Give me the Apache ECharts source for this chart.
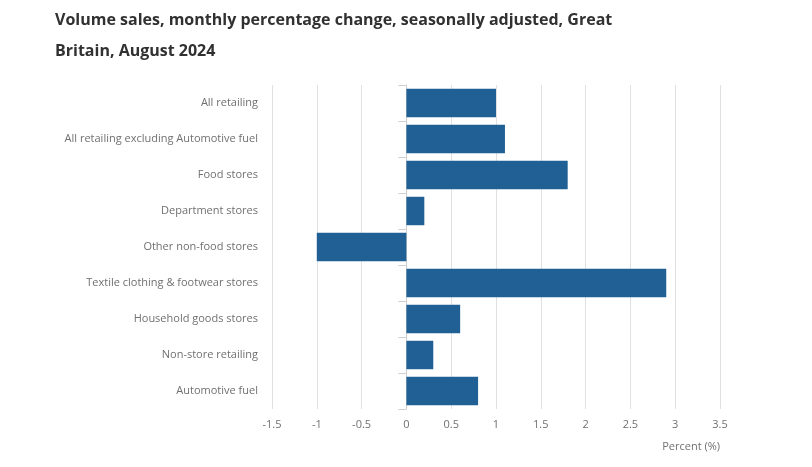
<!DOCTYPE html>
<html>
<head>
<meta charset="utf-8">
<script src="https://cdn.jsdelivr.net/npm/echarts@6/dist/echarts.min.js"></script>
<style>
html,body{margin:0;padding:0;background:#fff;}
#chart{width:812px;height:467px;}
</style>
</head>
<body>
<div id="chart"></div>
<script>
const categories = [
  "All retailing",
  "All retailing excluding Automotive fuel",
  "Food stores",
  "Department stores",
  "Other non-food stores",
  "Textile clothing & footwear stores",
  "Household goods stores",
  "Non-store retailing",
  "Automotive fuel"
];
const values = [1.0, 1.1, 1.8, 0.2, -1.0, 2.9, 0.6, 0.3, 0.8];
const titleLines = ["Volume sales, monthly percentage change, seasonally adjusted, Great", "Britain, August 2024"];
const axisName = "Percent (%)";

const chart = echarts.init(document.getElementById('chart'), null, {renderer: 'canvas'});
chart.setOption({
  animation: false,
  title: {
    text: titleLines.join('\n'),
    left: 50,
    top: 0,
    textStyle: {
      fontFamily: 'Open Sans',
      fontWeight: 'bold',
      fontSize: 16,
      color: '#323132',
      lineHeight: 31
    }
  },
  grid: {left: 272, right: 92, top: 85, bottom: 58, containLabel: false},
  xAxis: {
    type: 'value',
    min: -1.5,
    max: 3.5,
    interval: 0.5,
    name: axisName,
    nameLocation: 'end',
    nameGap: 0,
    nameTextStyle: {
      fontFamily: 'Open Sans', fontSize: 11, color: '#707070',
      align: 'right', verticalAlign: 'top', padding: [32, 0, 0, 0]
    },
    axisLine: {show: false},
    axisTick: {show: false},
    axisLabel: {
      fontFamily: 'Open Sans', fontSize: 11, color: '#707070', margin: 10,
      formatter: v => String(v)
    },
    splitLine: {show: true, lineStyle: {color: '#e0e0e0', width: 1}}
  },
  yAxis: {
    type: 'category',
    data: categories,
    inverse: true,
    axisLine: {show: true, lineStyle: {color: '#d0d0d0'}},
    axisTick: {show: true, length: 8, alignWithLabel: false, lineStyle: {color: '#d0d0d0'}},
    axisLabel: {fontFamily: 'Open Sans', fontSize: 11, color: '#707070', margin: 14}
  },
  series: [{
    type: 'bar',
    data: values,
    barCategoryGap: '21%',
    itemStyle: {color: '#206095'}
  }]
});
</script>
</body>
</html>
